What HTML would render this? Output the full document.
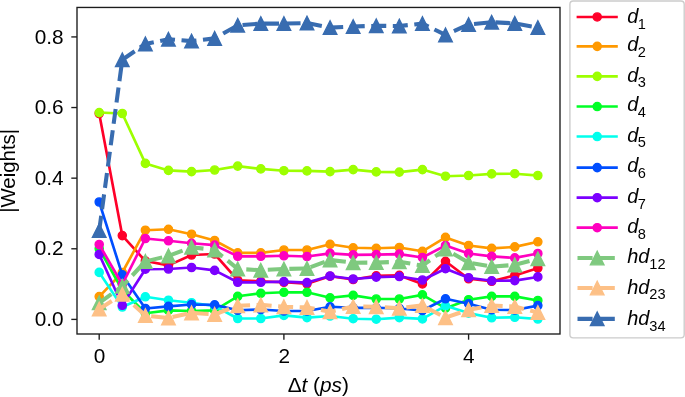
<!DOCTYPE html>
<html><head><meta charset="utf-8"><title>Weights</title>
<style>html,body{margin:0;padding:0;background:#fff;}body{width:685px;height:397px;overflow:hidden;position:relative;}</style>
</head><body>
<svg width="685" height="397" viewBox="0 0 685 397" style="display:block;position:absolute;left:0;top:0">
<rect x="0" y="0" width="685" height="397" fill="#ffffff"/>
<defs><clipPath id="ax"><rect x="77.0" y="7.45" width="483" height="326.55"/></clipPath></defs>
<g clip-path="url(#ax)">
<polyline points="99.2,113.5 122.29,235.6 145.37,261 168.46,265.4 191.55,255 214.63,254 237.72,280.2 260.81,281.4 283.9,282.3 306.98,283.8 330.07,276.2 353.16,279.5 376.24,275.8 399.33,275.4 422.42,283.9 445.5,261.3 468.59,278.8 491.68,281.3 514.77,275.4 537.85,268.1" fill="none" stroke="#ff0029" stroke-width="2.65" stroke-linejoin="round" stroke-linecap="square"/>
<circle cx="99.2" cy="113.5" r="4.1" fill="#ff0029" stroke="#ff0029" stroke-width="1.36"/>
<circle cx="122.29" cy="235.6" r="4.1" fill="#ff0029" stroke="#ff0029" stroke-width="1.36"/>
<circle cx="145.37" cy="261" r="4.1" fill="#ff0029" stroke="#ff0029" stroke-width="1.36"/>
<circle cx="168.46" cy="265.4" r="4.1" fill="#ff0029" stroke="#ff0029" stroke-width="1.36"/>
<circle cx="191.55" cy="255" r="4.1" fill="#ff0029" stroke="#ff0029" stroke-width="1.36"/>
<circle cx="214.63" cy="254" r="4.1" fill="#ff0029" stroke="#ff0029" stroke-width="1.36"/>
<circle cx="237.72" cy="280.2" r="4.1" fill="#ff0029" stroke="#ff0029" stroke-width="1.36"/>
<circle cx="260.81" cy="281.4" r="4.1" fill="#ff0029" stroke="#ff0029" stroke-width="1.36"/>
<circle cx="283.9" cy="282.3" r="4.1" fill="#ff0029" stroke="#ff0029" stroke-width="1.36"/>
<circle cx="306.98" cy="283.8" r="4.1" fill="#ff0029" stroke="#ff0029" stroke-width="1.36"/>
<circle cx="330.07" cy="276.2" r="4.1" fill="#ff0029" stroke="#ff0029" stroke-width="1.36"/>
<circle cx="353.16" cy="279.5" r="4.1" fill="#ff0029" stroke="#ff0029" stroke-width="1.36"/>
<circle cx="376.24" cy="275.8" r="4.1" fill="#ff0029" stroke="#ff0029" stroke-width="1.36"/>
<circle cx="399.33" cy="275.4" r="4.1" fill="#ff0029" stroke="#ff0029" stroke-width="1.36"/>
<circle cx="422.42" cy="283.9" r="4.1" fill="#ff0029" stroke="#ff0029" stroke-width="1.36"/>
<circle cx="445.5" cy="261.3" r="4.1" fill="#ff0029" stroke="#ff0029" stroke-width="1.36"/>
<circle cx="468.59" cy="278.8" r="4.1" fill="#ff0029" stroke="#ff0029" stroke-width="1.36"/>
<circle cx="491.68" cy="281.3" r="4.1" fill="#ff0029" stroke="#ff0029" stroke-width="1.36"/>
<circle cx="514.77" cy="275.4" r="4.1" fill="#ff0029" stroke="#ff0029" stroke-width="1.36"/>
<circle cx="537.85" cy="268.1" r="4.1" fill="#ff0029" stroke="#ff0029" stroke-width="1.36"/>
<polyline points="99.2,296.6 122.29,272.5 145.37,230.2 168.46,229.3 191.55,234.2 214.63,240.5 237.72,252.9 260.81,252.9 283.9,250 306.98,250 330.07,244.3 353.16,247.8 376.24,248.3 399.33,247.5 422.42,251.3 445.5,237.4 468.59,245.5 491.68,248.4 514.77,246.9 537.85,241.8" fill="none" stroke="#ff9900" stroke-width="2.65" stroke-linejoin="round" stroke-linecap="square"/>
<circle cx="99.2" cy="296.6" r="4.1" fill="#ff9900" stroke="#ff9900" stroke-width="1.36"/>
<circle cx="122.29" cy="272.5" r="4.1" fill="#ff9900" stroke="#ff9900" stroke-width="1.36"/>
<circle cx="145.37" cy="230.2" r="4.1" fill="#ff9900" stroke="#ff9900" stroke-width="1.36"/>
<circle cx="168.46" cy="229.3" r="4.1" fill="#ff9900" stroke="#ff9900" stroke-width="1.36"/>
<circle cx="191.55" cy="234.2" r="4.1" fill="#ff9900" stroke="#ff9900" stroke-width="1.36"/>
<circle cx="214.63" cy="240.5" r="4.1" fill="#ff9900" stroke="#ff9900" stroke-width="1.36"/>
<circle cx="237.72" cy="252.9" r="4.1" fill="#ff9900" stroke="#ff9900" stroke-width="1.36"/>
<circle cx="260.81" cy="252.9" r="4.1" fill="#ff9900" stroke="#ff9900" stroke-width="1.36"/>
<circle cx="283.9" cy="250" r="4.1" fill="#ff9900" stroke="#ff9900" stroke-width="1.36"/>
<circle cx="306.98" cy="250" r="4.1" fill="#ff9900" stroke="#ff9900" stroke-width="1.36"/>
<circle cx="330.07" cy="244.3" r="4.1" fill="#ff9900" stroke="#ff9900" stroke-width="1.36"/>
<circle cx="353.16" cy="247.8" r="4.1" fill="#ff9900" stroke="#ff9900" stroke-width="1.36"/>
<circle cx="376.24" cy="248.3" r="4.1" fill="#ff9900" stroke="#ff9900" stroke-width="1.36"/>
<circle cx="399.33" cy="247.5" r="4.1" fill="#ff9900" stroke="#ff9900" stroke-width="1.36"/>
<circle cx="422.42" cy="251.3" r="4.1" fill="#ff9900" stroke="#ff9900" stroke-width="1.36"/>
<circle cx="445.5" cy="237.4" r="4.1" fill="#ff9900" stroke="#ff9900" stroke-width="1.36"/>
<circle cx="468.59" cy="245.5" r="4.1" fill="#ff9900" stroke="#ff9900" stroke-width="1.36"/>
<circle cx="491.68" cy="248.4" r="4.1" fill="#ff9900" stroke="#ff9900" stroke-width="1.36"/>
<circle cx="514.77" cy="246.9" r="4.1" fill="#ff9900" stroke="#ff9900" stroke-width="1.36"/>
<circle cx="537.85" cy="241.8" r="4.1" fill="#ff9900" stroke="#ff9900" stroke-width="1.36"/>
<polyline points="99.2,112.6 122.29,113.5 145.37,163.4 168.46,170.4 191.55,171.6 214.63,170 237.72,166.1 260.81,168.9 283.9,170.7 306.98,170.9 330.07,171.6 353.16,169.6 376.24,171.9 399.33,172.1 422.42,169.6 445.5,176.2 468.59,175.5 491.68,173.9 514.77,173.7 537.85,175.5" fill="none" stroke="#9dff00" stroke-width="2.65" stroke-linejoin="round" stroke-linecap="square"/>
<circle cx="99.2" cy="112.6" r="4.1" fill="#9dff00" stroke="#9dff00" stroke-width="1.36"/>
<circle cx="122.29" cy="113.5" r="4.1" fill="#9dff00" stroke="#9dff00" stroke-width="1.36"/>
<circle cx="145.37" cy="163.4" r="4.1" fill="#9dff00" stroke="#9dff00" stroke-width="1.36"/>
<circle cx="168.46" cy="170.4" r="4.1" fill="#9dff00" stroke="#9dff00" stroke-width="1.36"/>
<circle cx="191.55" cy="171.6" r="4.1" fill="#9dff00" stroke="#9dff00" stroke-width="1.36"/>
<circle cx="214.63" cy="170" r="4.1" fill="#9dff00" stroke="#9dff00" stroke-width="1.36"/>
<circle cx="237.72" cy="166.1" r="4.1" fill="#9dff00" stroke="#9dff00" stroke-width="1.36"/>
<circle cx="260.81" cy="168.9" r="4.1" fill="#9dff00" stroke="#9dff00" stroke-width="1.36"/>
<circle cx="283.9" cy="170.7" r="4.1" fill="#9dff00" stroke="#9dff00" stroke-width="1.36"/>
<circle cx="306.98" cy="170.9" r="4.1" fill="#9dff00" stroke="#9dff00" stroke-width="1.36"/>
<circle cx="330.07" cy="171.6" r="4.1" fill="#9dff00" stroke="#9dff00" stroke-width="1.36"/>
<circle cx="353.16" cy="169.6" r="4.1" fill="#9dff00" stroke="#9dff00" stroke-width="1.36"/>
<circle cx="376.24" cy="171.9" r="4.1" fill="#9dff00" stroke="#9dff00" stroke-width="1.36"/>
<circle cx="399.33" cy="172.1" r="4.1" fill="#9dff00" stroke="#9dff00" stroke-width="1.36"/>
<circle cx="422.42" cy="169.6" r="4.1" fill="#9dff00" stroke="#9dff00" stroke-width="1.36"/>
<circle cx="445.5" cy="176.2" r="4.1" fill="#9dff00" stroke="#9dff00" stroke-width="1.36"/>
<circle cx="468.59" cy="175.5" r="4.1" fill="#9dff00" stroke="#9dff00" stroke-width="1.36"/>
<circle cx="491.68" cy="173.9" r="4.1" fill="#9dff00" stroke="#9dff00" stroke-width="1.36"/>
<circle cx="514.77" cy="173.7" r="4.1" fill="#9dff00" stroke="#9dff00" stroke-width="1.36"/>
<circle cx="537.85" cy="175.5" r="4.1" fill="#9dff00" stroke="#9dff00" stroke-width="1.36"/>
<polyline points="99.2,248.7 122.29,290 145.37,313.3 168.46,310.4 191.55,311 214.63,310.4 237.72,296.3 260.81,293.3 283.9,292.3 306.98,292.3 330.07,297.8 353.16,295.4 376.24,299 399.33,299 422.42,294.9 445.5,308.2 468.59,299.7 491.68,296.4 514.77,296.4 537.85,300.5" fill="none" stroke="#00ff26" stroke-width="2.65" stroke-linejoin="round" stroke-linecap="square"/>
<circle cx="99.2" cy="248.7" r="4.1" fill="#00ff26" stroke="#00ff26" stroke-width="1.36"/>
<circle cx="122.29" cy="290" r="4.1" fill="#00ff26" stroke="#00ff26" stroke-width="1.36"/>
<circle cx="145.37" cy="313.3" r="4.1" fill="#00ff26" stroke="#00ff26" stroke-width="1.36"/>
<circle cx="168.46" cy="310.4" r="4.1" fill="#00ff26" stroke="#00ff26" stroke-width="1.36"/>
<circle cx="191.55" cy="311" r="4.1" fill="#00ff26" stroke="#00ff26" stroke-width="1.36"/>
<circle cx="214.63" cy="310.4" r="4.1" fill="#00ff26" stroke="#00ff26" stroke-width="1.36"/>
<circle cx="237.72" cy="296.3" r="4.1" fill="#00ff26" stroke="#00ff26" stroke-width="1.36"/>
<circle cx="260.81" cy="293.3" r="4.1" fill="#00ff26" stroke="#00ff26" stroke-width="1.36"/>
<circle cx="283.9" cy="292.3" r="4.1" fill="#00ff26" stroke="#00ff26" stroke-width="1.36"/>
<circle cx="306.98" cy="292.3" r="4.1" fill="#00ff26" stroke="#00ff26" stroke-width="1.36"/>
<circle cx="330.07" cy="297.8" r="4.1" fill="#00ff26" stroke="#00ff26" stroke-width="1.36"/>
<circle cx="353.16" cy="295.4" r="4.1" fill="#00ff26" stroke="#00ff26" stroke-width="1.36"/>
<circle cx="376.24" cy="299" r="4.1" fill="#00ff26" stroke="#00ff26" stroke-width="1.36"/>
<circle cx="399.33" cy="299" r="4.1" fill="#00ff26" stroke="#00ff26" stroke-width="1.36"/>
<circle cx="422.42" cy="294.9" r="4.1" fill="#00ff26" stroke="#00ff26" stroke-width="1.36"/>
<circle cx="445.5" cy="308.2" r="4.1" fill="#00ff26" stroke="#00ff26" stroke-width="1.36"/>
<circle cx="468.59" cy="299.7" r="4.1" fill="#00ff26" stroke="#00ff26" stroke-width="1.36"/>
<circle cx="491.68" cy="296.4" r="4.1" fill="#00ff26" stroke="#00ff26" stroke-width="1.36"/>
<circle cx="514.77" cy="296.4" r="4.1" fill="#00ff26" stroke="#00ff26" stroke-width="1.36"/>
<circle cx="537.85" cy="300.5" r="4.1" fill="#00ff26" stroke="#00ff26" stroke-width="1.36"/>
<polyline points="99.2,272.4 122.29,307 145.37,296.8 168.46,300.2 191.55,302.7 214.63,306 237.72,318.5 260.81,318.5 283.9,315.4 306.98,317.6 330.07,316 353.16,318.7 376.24,319.2 399.33,317.6 422.42,318.9 445.5,305.8 468.59,313.1 491.68,317.8 514.77,317.3 537.85,319" fill="none" stroke="#00ffed" stroke-width="2.65" stroke-linejoin="round" stroke-linecap="square"/>
<circle cx="99.2" cy="272.4" r="4.1" fill="#00ffed" stroke="#00ffed" stroke-width="1.36"/>
<circle cx="122.29" cy="307" r="4.1" fill="#00ffed" stroke="#00ffed" stroke-width="1.36"/>
<circle cx="145.37" cy="296.8" r="4.1" fill="#00ffed" stroke="#00ffed" stroke-width="1.36"/>
<circle cx="168.46" cy="300.2" r="4.1" fill="#00ffed" stroke="#00ffed" stroke-width="1.36"/>
<circle cx="191.55" cy="302.7" r="4.1" fill="#00ffed" stroke="#00ffed" stroke-width="1.36"/>
<circle cx="214.63" cy="306" r="4.1" fill="#00ffed" stroke="#00ffed" stroke-width="1.36"/>
<circle cx="237.72" cy="318.5" r="4.1" fill="#00ffed" stroke="#00ffed" stroke-width="1.36"/>
<circle cx="260.81" cy="318.5" r="4.1" fill="#00ffed" stroke="#00ffed" stroke-width="1.36"/>
<circle cx="283.9" cy="315.4" r="4.1" fill="#00ffed" stroke="#00ffed" stroke-width="1.36"/>
<circle cx="306.98" cy="317.6" r="4.1" fill="#00ffed" stroke="#00ffed" stroke-width="1.36"/>
<circle cx="330.07" cy="316" r="4.1" fill="#00ffed" stroke="#00ffed" stroke-width="1.36"/>
<circle cx="353.16" cy="318.7" r="4.1" fill="#00ffed" stroke="#00ffed" stroke-width="1.36"/>
<circle cx="376.24" cy="319.2" r="4.1" fill="#00ffed" stroke="#00ffed" stroke-width="1.36"/>
<circle cx="399.33" cy="317.6" r="4.1" fill="#00ffed" stroke="#00ffed" stroke-width="1.36"/>
<circle cx="422.42" cy="318.9" r="4.1" fill="#00ffed" stroke="#00ffed" stroke-width="1.36"/>
<circle cx="445.5" cy="305.8" r="4.1" fill="#00ffed" stroke="#00ffed" stroke-width="1.36"/>
<circle cx="468.59" cy="313.1" r="4.1" fill="#00ffed" stroke="#00ffed" stroke-width="1.36"/>
<circle cx="491.68" cy="317.8" r="4.1" fill="#00ffed" stroke="#00ffed" stroke-width="1.36"/>
<circle cx="514.77" cy="317.3" r="4.1" fill="#00ffed" stroke="#00ffed" stroke-width="1.36"/>
<circle cx="537.85" cy="319" r="4.1" fill="#00ffed" stroke="#00ffed" stroke-width="1.36"/>
<polyline points="99.2,202 122.29,274.9 145.37,308.5 168.46,306.4 191.55,304.5 214.63,304.9 237.72,310.3 260.81,309.5 283.9,311 306.98,311 330.07,306.8 353.16,307.8 376.24,307.8 399.33,308.5 422.42,310.5 445.5,298.8 468.59,303.7 491.68,309.8 514.77,310 537.85,305.6" fill="none" stroke="#004eff" stroke-width="2.65" stroke-linejoin="round" stroke-linecap="square"/>
<circle cx="99.2" cy="202" r="4.1" fill="#004eff" stroke="#004eff" stroke-width="1.36"/>
<circle cx="122.29" cy="274.9" r="4.1" fill="#004eff" stroke="#004eff" stroke-width="1.36"/>
<circle cx="145.37" cy="308.5" r="4.1" fill="#004eff" stroke="#004eff" stroke-width="1.36"/>
<circle cx="168.46" cy="306.4" r="4.1" fill="#004eff" stroke="#004eff" stroke-width="1.36"/>
<circle cx="191.55" cy="304.5" r="4.1" fill="#004eff" stroke="#004eff" stroke-width="1.36"/>
<circle cx="214.63" cy="304.9" r="4.1" fill="#004eff" stroke="#004eff" stroke-width="1.36"/>
<circle cx="237.72" cy="310.3" r="4.1" fill="#004eff" stroke="#004eff" stroke-width="1.36"/>
<circle cx="260.81" cy="309.5" r="4.1" fill="#004eff" stroke="#004eff" stroke-width="1.36"/>
<circle cx="283.9" cy="311" r="4.1" fill="#004eff" stroke="#004eff" stroke-width="1.36"/>
<circle cx="306.98" cy="311" r="4.1" fill="#004eff" stroke="#004eff" stroke-width="1.36"/>
<circle cx="330.07" cy="306.8" r="4.1" fill="#004eff" stroke="#004eff" stroke-width="1.36"/>
<circle cx="353.16" cy="307.8" r="4.1" fill="#004eff" stroke="#004eff" stroke-width="1.36"/>
<circle cx="376.24" cy="307.8" r="4.1" fill="#004eff" stroke="#004eff" stroke-width="1.36"/>
<circle cx="399.33" cy="308.5" r="4.1" fill="#004eff" stroke="#004eff" stroke-width="1.36"/>
<circle cx="422.42" cy="310.5" r="4.1" fill="#004eff" stroke="#004eff" stroke-width="1.36"/>
<circle cx="445.5" cy="298.8" r="4.1" fill="#004eff" stroke="#004eff" stroke-width="1.36"/>
<circle cx="468.59" cy="303.7" r="4.1" fill="#004eff" stroke="#004eff" stroke-width="1.36"/>
<circle cx="491.68" cy="309.8" r="4.1" fill="#004eff" stroke="#004eff" stroke-width="1.36"/>
<circle cx="514.77" cy="310" r="4.1" fill="#004eff" stroke="#004eff" stroke-width="1.36"/>
<circle cx="537.85" cy="305.6" r="4.1" fill="#004eff" stroke="#004eff" stroke-width="1.36"/>
<polyline points="99.2,254.4 122.29,305.3 145.37,269.2 168.46,269 191.55,267.5 214.63,270.4 237.72,282.3 260.81,282.3 283.9,281.6 306.98,282.6 330.07,276 353.16,279 376.24,277.1 399.33,276.5 422.42,280 445.5,268.7 468.59,277.7 491.68,280.8 514.77,280.6 537.85,276.9" fill="none" stroke="#7b00ff" stroke-width="2.65" stroke-linejoin="round" stroke-linecap="square"/>
<circle cx="99.2" cy="254.4" r="4.1" fill="#7b00ff" stroke="#7b00ff" stroke-width="1.36"/>
<circle cx="122.29" cy="305.3" r="4.1" fill="#7b00ff" stroke="#7b00ff" stroke-width="1.36"/>
<circle cx="145.37" cy="269.2" r="4.1" fill="#7b00ff" stroke="#7b00ff" stroke-width="1.36"/>
<circle cx="168.46" cy="269" r="4.1" fill="#7b00ff" stroke="#7b00ff" stroke-width="1.36"/>
<circle cx="191.55" cy="267.5" r="4.1" fill="#7b00ff" stroke="#7b00ff" stroke-width="1.36"/>
<circle cx="214.63" cy="270.4" r="4.1" fill="#7b00ff" stroke="#7b00ff" stroke-width="1.36"/>
<circle cx="237.72" cy="282.3" r="4.1" fill="#7b00ff" stroke="#7b00ff" stroke-width="1.36"/>
<circle cx="260.81" cy="282.3" r="4.1" fill="#7b00ff" stroke="#7b00ff" stroke-width="1.36"/>
<circle cx="283.9" cy="281.6" r="4.1" fill="#7b00ff" stroke="#7b00ff" stroke-width="1.36"/>
<circle cx="306.98" cy="282.6" r="4.1" fill="#7b00ff" stroke="#7b00ff" stroke-width="1.36"/>
<circle cx="330.07" cy="276" r="4.1" fill="#7b00ff" stroke="#7b00ff" stroke-width="1.36"/>
<circle cx="353.16" cy="279" r="4.1" fill="#7b00ff" stroke="#7b00ff" stroke-width="1.36"/>
<circle cx="376.24" cy="277.1" r="4.1" fill="#7b00ff" stroke="#7b00ff" stroke-width="1.36"/>
<circle cx="399.33" cy="276.5" r="4.1" fill="#7b00ff" stroke="#7b00ff" stroke-width="1.36"/>
<circle cx="422.42" cy="280" r="4.1" fill="#7b00ff" stroke="#7b00ff" stroke-width="1.36"/>
<circle cx="445.5" cy="268.7" r="4.1" fill="#7b00ff" stroke="#7b00ff" stroke-width="1.36"/>
<circle cx="468.59" cy="277.7" r="4.1" fill="#7b00ff" stroke="#7b00ff" stroke-width="1.36"/>
<circle cx="491.68" cy="280.8" r="4.1" fill="#7b00ff" stroke="#7b00ff" stroke-width="1.36"/>
<circle cx="514.77" cy="280.6" r="4.1" fill="#7b00ff" stroke="#7b00ff" stroke-width="1.36"/>
<circle cx="537.85" cy="276.9" r="4.1" fill="#7b00ff" stroke="#7b00ff" stroke-width="1.36"/>
<polyline points="99.2,244.5 122.29,284.5 145.37,238.5 168.46,240.8 191.55,243.3 214.63,245.1 237.72,256.3 260.81,256.3 283.9,255.8 306.98,256.5 330.07,253.4 353.16,254.9 376.24,254.6 399.33,254.1 422.42,257.5 445.5,245.5 468.59,253.5 491.68,256.4 514.77,257.9 537.85,253.5" fill="none" stroke="#ff00bf" stroke-width="2.65" stroke-linejoin="round" stroke-linecap="square"/>
<circle cx="99.2" cy="244.5" r="4.1" fill="#ff00bf" stroke="#ff00bf" stroke-width="1.36"/>
<circle cx="122.29" cy="284.5" r="4.1" fill="#ff00bf" stroke="#ff00bf" stroke-width="1.36"/>
<circle cx="145.37" cy="238.5" r="4.1" fill="#ff00bf" stroke="#ff00bf" stroke-width="1.36"/>
<circle cx="168.46" cy="240.8" r="4.1" fill="#ff00bf" stroke="#ff00bf" stroke-width="1.36"/>
<circle cx="191.55" cy="243.3" r="4.1" fill="#ff00bf" stroke="#ff00bf" stroke-width="1.36"/>
<circle cx="214.63" cy="245.1" r="4.1" fill="#ff00bf" stroke="#ff00bf" stroke-width="1.36"/>
<circle cx="237.72" cy="256.3" r="4.1" fill="#ff00bf" stroke="#ff00bf" stroke-width="1.36"/>
<circle cx="260.81" cy="256.3" r="4.1" fill="#ff00bf" stroke="#ff00bf" stroke-width="1.36"/>
<circle cx="283.9" cy="255.8" r="4.1" fill="#ff00bf" stroke="#ff00bf" stroke-width="1.36"/>
<circle cx="306.98" cy="256.5" r="4.1" fill="#ff00bf" stroke="#ff00bf" stroke-width="1.36"/>
<circle cx="330.07" cy="253.4" r="4.1" fill="#ff00bf" stroke="#ff00bf" stroke-width="1.36"/>
<circle cx="353.16" cy="254.9" r="4.1" fill="#ff00bf" stroke="#ff00bf" stroke-width="1.36"/>
<circle cx="376.24" cy="254.6" r="4.1" fill="#ff00bf" stroke="#ff00bf" stroke-width="1.36"/>
<circle cx="399.33" cy="254.1" r="4.1" fill="#ff00bf" stroke="#ff00bf" stroke-width="1.36"/>
<circle cx="422.42" cy="257.5" r="4.1" fill="#ff00bf" stroke="#ff00bf" stroke-width="1.36"/>
<circle cx="445.5" cy="245.5" r="4.1" fill="#ff00bf" stroke="#ff00bf" stroke-width="1.36"/>
<circle cx="468.59" cy="253.5" r="4.1" fill="#ff00bf" stroke="#ff00bf" stroke-width="1.36"/>
<circle cx="491.68" cy="256.4" r="4.1" fill="#ff00bf" stroke="#ff00bf" stroke-width="1.36"/>
<circle cx="514.77" cy="257.9" r="4.1" fill="#ff00bf" stroke="#ff00bf" stroke-width="1.36"/>
<circle cx="537.85" cy="253.5" r="4.1" fill="#ff00bf" stroke="#ff00bf" stroke-width="1.36"/>
<polyline points="99.2,302.8 122.29,286.3 145.37,261.4 168.46,255.9 191.55,247.2 214.63,250 237.72,268.9 260.81,270.2 283.9,269 306.98,268.4 330.07,260 353.16,262.7 376.24,262.6 399.33,261.8 422.42,265.6 445.5,249.1 468.59,262.7 491.68,266.6 514.77,264.9 537.85,258.8" fill="none" stroke="#7fc97f" stroke-width="4.08" stroke-dasharray="15.0 6.55" stroke-linejoin="round" stroke-linecap="butt"/>
<polygon points="99.2,296 92.4,309.6 106,309.6" fill="#7fc97f" stroke="#7fc97f" stroke-width="1.36" stroke-linejoin="miter"/>
<polygon points="122.29,279.5 115.49,293.1 129.09,293.1" fill="#7fc97f" stroke="#7fc97f" stroke-width="1.36" stroke-linejoin="miter"/>
<polygon points="145.37,254.6 138.57,268.2 152.17,268.2" fill="#7fc97f" stroke="#7fc97f" stroke-width="1.36" stroke-linejoin="miter"/>
<polygon points="168.46,249.1 161.66,262.7 175.26,262.7" fill="#7fc97f" stroke="#7fc97f" stroke-width="1.36" stroke-linejoin="miter"/>
<polygon points="191.55,240.4 184.75,254 198.35,254" fill="#7fc97f" stroke="#7fc97f" stroke-width="1.36" stroke-linejoin="miter"/>
<polygon points="214.63,243.2 207.83,256.8 221.44,256.8" fill="#7fc97f" stroke="#7fc97f" stroke-width="1.36" stroke-linejoin="miter"/>
<polygon points="237.72,262.1 230.92,275.7 244.52,275.7" fill="#7fc97f" stroke="#7fc97f" stroke-width="1.36" stroke-linejoin="miter"/>
<polygon points="260.81,263.4 254.01,277 267.61,277" fill="#7fc97f" stroke="#7fc97f" stroke-width="1.36" stroke-linejoin="miter"/>
<polygon points="283.9,262.2 277.1,275.8 290.7,275.8" fill="#7fc97f" stroke="#7fc97f" stroke-width="1.36" stroke-linejoin="miter"/>
<polygon points="306.98,261.6 300.18,275.2 313.78,275.2" fill="#7fc97f" stroke="#7fc97f" stroke-width="1.36" stroke-linejoin="miter"/>
<polygon points="330.07,253.2 323.27,266.8 336.87,266.8" fill="#7fc97f" stroke="#7fc97f" stroke-width="1.36" stroke-linejoin="miter"/>
<polygon points="353.16,255.9 346.36,269.5 359.96,269.5" fill="#7fc97f" stroke="#7fc97f" stroke-width="1.36" stroke-linejoin="miter"/>
<polygon points="376.24,255.8 369.44,269.4 383.04,269.4" fill="#7fc97f" stroke="#7fc97f" stroke-width="1.36" stroke-linejoin="miter"/>
<polygon points="399.33,255 392.53,268.6 406.13,268.6" fill="#7fc97f" stroke="#7fc97f" stroke-width="1.36" stroke-linejoin="miter"/>
<polygon points="422.42,258.8 415.62,272.4 429.22,272.4" fill="#7fc97f" stroke="#7fc97f" stroke-width="1.36" stroke-linejoin="miter"/>
<polygon points="445.5,242.3 438.7,255.9 452.31,255.9" fill="#7fc97f" stroke="#7fc97f" stroke-width="1.36" stroke-linejoin="miter"/>
<polygon points="468.59,255.9 461.79,269.5 475.39,269.5" fill="#7fc97f" stroke="#7fc97f" stroke-width="1.36" stroke-linejoin="miter"/>
<polygon points="491.68,259.8 484.88,273.4 498.48,273.4" fill="#7fc97f" stroke="#7fc97f" stroke-width="1.36" stroke-linejoin="miter"/>
<polygon points="514.77,258.1 507.97,271.7 521.57,271.7" fill="#7fc97f" stroke="#7fc97f" stroke-width="1.36" stroke-linejoin="miter"/>
<polygon points="537.85,252 531.05,265.6 544.65,265.6" fill="#7fc97f" stroke="#7fc97f" stroke-width="1.36" stroke-linejoin="miter"/>
<polyline points="99.2,309.1 122.29,294.3 145.37,315.6 168.46,317.9 191.55,312.9 214.63,314.4 237.72,305.7 260.81,304.9 283.9,306.7 306.98,307.4 330.07,311.8 353.16,306.6 376.24,306.7 399.33,308.2 422.42,305.5 445.5,317.7 468.59,309.7 491.68,305.5 514.77,306.5 537.85,312.6" fill="none" stroke="#fdc086" stroke-width="4.08" stroke-dasharray="15.0 6.55" stroke-linejoin="round" stroke-linecap="butt"/>
<polygon points="99.2,302.3 92.4,315.9 106,315.9" fill="#fdc086" stroke="#fdc086" stroke-width="1.36" stroke-linejoin="miter"/>
<polygon points="122.29,287.5 115.49,301.1 129.09,301.1" fill="#fdc086" stroke="#fdc086" stroke-width="1.36" stroke-linejoin="miter"/>
<polygon points="145.37,308.8 138.57,322.4 152.17,322.4" fill="#fdc086" stroke="#fdc086" stroke-width="1.36" stroke-linejoin="miter"/>
<polygon points="168.46,311.1 161.66,324.7 175.26,324.7" fill="#fdc086" stroke="#fdc086" stroke-width="1.36" stroke-linejoin="miter"/>
<polygon points="191.55,306.1 184.75,319.7 198.35,319.7" fill="#fdc086" stroke="#fdc086" stroke-width="1.36" stroke-linejoin="miter"/>
<polygon points="214.63,307.6 207.83,321.2 221.44,321.2" fill="#fdc086" stroke="#fdc086" stroke-width="1.36" stroke-linejoin="miter"/>
<polygon points="237.72,298.9 230.92,312.5 244.52,312.5" fill="#fdc086" stroke="#fdc086" stroke-width="1.36" stroke-linejoin="miter"/>
<polygon points="260.81,298.1 254.01,311.7 267.61,311.7" fill="#fdc086" stroke="#fdc086" stroke-width="1.36" stroke-linejoin="miter"/>
<polygon points="283.9,299.9 277.1,313.5 290.7,313.5" fill="#fdc086" stroke="#fdc086" stroke-width="1.36" stroke-linejoin="miter"/>
<polygon points="306.98,300.6 300.18,314.2 313.78,314.2" fill="#fdc086" stroke="#fdc086" stroke-width="1.36" stroke-linejoin="miter"/>
<polygon points="330.07,305 323.27,318.6 336.87,318.6" fill="#fdc086" stroke="#fdc086" stroke-width="1.36" stroke-linejoin="miter"/>
<polygon points="353.16,299.8 346.36,313.4 359.96,313.4" fill="#fdc086" stroke="#fdc086" stroke-width="1.36" stroke-linejoin="miter"/>
<polygon points="376.24,299.9 369.44,313.5 383.04,313.5" fill="#fdc086" stroke="#fdc086" stroke-width="1.36" stroke-linejoin="miter"/>
<polygon points="399.33,301.4 392.53,315 406.13,315" fill="#fdc086" stroke="#fdc086" stroke-width="1.36" stroke-linejoin="miter"/>
<polygon points="422.42,298.7 415.62,312.3 429.22,312.3" fill="#fdc086" stroke="#fdc086" stroke-width="1.36" stroke-linejoin="miter"/>
<polygon points="445.5,310.9 438.7,324.5 452.31,324.5" fill="#fdc086" stroke="#fdc086" stroke-width="1.36" stroke-linejoin="miter"/>
<polygon points="468.59,302.9 461.79,316.5 475.39,316.5" fill="#fdc086" stroke="#fdc086" stroke-width="1.36" stroke-linejoin="miter"/>
<polygon points="491.68,298.7 484.88,312.3 498.48,312.3" fill="#fdc086" stroke="#fdc086" stroke-width="1.36" stroke-linejoin="miter"/>
<polygon points="514.77,299.7 507.97,313.3 521.57,313.3" fill="#fdc086" stroke="#fdc086" stroke-width="1.36" stroke-linejoin="miter"/>
<polygon points="537.85,305.8 531.05,319.4 544.65,319.4" fill="#fdc086" stroke="#fdc086" stroke-width="1.36" stroke-linejoin="miter"/>
<polyline points="99.2,230.6 122.29,59.8 145.37,43.9 168.46,39.2 191.55,41.1 214.63,38.4 237.72,25.3 260.81,23.6 283.9,23.6 306.98,23 330.07,27.6 353.16,26.5 376.24,25.8 399.33,26 422.42,23.6 445.5,34.9 468.59,24.5 491.68,22.2 514.77,23.4 537.85,27.5" fill="none" stroke="#386cb0" stroke-width="4.08" stroke-dasharray="15.0 6.55" stroke-linejoin="round" stroke-linecap="butt"/>
<polygon points="99.2,223.8 92.4,237.4 106,237.4" fill="#386cb0" stroke="#386cb0" stroke-width="1.36" stroke-linejoin="miter"/>
<polygon points="122.29,53 115.49,66.6 129.09,66.6" fill="#386cb0" stroke="#386cb0" stroke-width="1.36" stroke-linejoin="miter"/>
<polygon points="145.37,37.1 138.57,50.7 152.17,50.7" fill="#386cb0" stroke="#386cb0" stroke-width="1.36" stroke-linejoin="miter"/>
<polygon points="168.46,32.4 161.66,46 175.26,46" fill="#386cb0" stroke="#386cb0" stroke-width="1.36" stroke-linejoin="miter"/>
<polygon points="191.55,34.3 184.75,47.9 198.35,47.9" fill="#386cb0" stroke="#386cb0" stroke-width="1.36" stroke-linejoin="miter"/>
<polygon points="214.63,31.6 207.83,45.2 221.44,45.2" fill="#386cb0" stroke="#386cb0" stroke-width="1.36" stroke-linejoin="miter"/>
<polygon points="237.72,18.5 230.92,32.1 244.52,32.1" fill="#386cb0" stroke="#386cb0" stroke-width="1.36" stroke-linejoin="miter"/>
<polygon points="260.81,16.8 254.01,30.4 267.61,30.4" fill="#386cb0" stroke="#386cb0" stroke-width="1.36" stroke-linejoin="miter"/>
<polygon points="283.9,16.8 277.1,30.4 290.7,30.4" fill="#386cb0" stroke="#386cb0" stroke-width="1.36" stroke-linejoin="miter"/>
<polygon points="306.98,16.2 300.18,29.8 313.78,29.8" fill="#386cb0" stroke="#386cb0" stroke-width="1.36" stroke-linejoin="miter"/>
<polygon points="330.07,20.8 323.27,34.4 336.87,34.4" fill="#386cb0" stroke="#386cb0" stroke-width="1.36" stroke-linejoin="miter"/>
<polygon points="353.16,19.7 346.36,33.3 359.96,33.3" fill="#386cb0" stroke="#386cb0" stroke-width="1.36" stroke-linejoin="miter"/>
<polygon points="376.24,19 369.44,32.6 383.04,32.6" fill="#386cb0" stroke="#386cb0" stroke-width="1.36" stroke-linejoin="miter"/>
<polygon points="399.33,19.2 392.53,32.8 406.13,32.8" fill="#386cb0" stroke="#386cb0" stroke-width="1.36" stroke-linejoin="miter"/>
<polygon points="422.42,16.8 415.62,30.4 429.22,30.4" fill="#386cb0" stroke="#386cb0" stroke-width="1.36" stroke-linejoin="miter"/>
<polygon points="445.5,28.1 438.7,41.7 452.31,41.7" fill="#386cb0" stroke="#386cb0" stroke-width="1.36" stroke-linejoin="miter"/>
<polygon points="468.59,17.7 461.79,31.3 475.39,31.3" fill="#386cb0" stroke="#386cb0" stroke-width="1.36" stroke-linejoin="miter"/>
<polygon points="491.68,15.4 484.88,29 498.48,29" fill="#386cb0" stroke="#386cb0" stroke-width="1.36" stroke-linejoin="miter"/>
<polygon points="514.77,16.6 507.97,30.2 521.57,30.2" fill="#386cb0" stroke="#386cb0" stroke-width="1.36" stroke-linejoin="miter"/>
<polygon points="537.85,20.7 531.05,34.3 544.65,34.3" fill="#386cb0" stroke="#386cb0" stroke-width="1.36" stroke-linejoin="miter"/>
</g>
<rect x="77.0" y="7.45" width="483" height="326.55" fill="none" stroke="#1c1c1c" stroke-width="1.36"/>
<line x1="71.3" y1="319.4" x2="77" y2="319.4" stroke="#1c1c1c" stroke-width="1.36"/>
<text x="63.6" y="326" text-anchor="end" font-family='"Liberation Sans", sans-serif' font-size="20.8" fill="#000">0.0</text>
<line x1="71.3" y1="248.78" x2="77" y2="248.78" stroke="#1c1c1c" stroke-width="1.36"/>
<text x="63.6" y="255.38" text-anchor="end" font-family='"Liberation Sans", sans-serif' font-size="20.8" fill="#000">0.2</text>
<line x1="71.3" y1="178.16" x2="77" y2="178.16" stroke="#1c1c1c" stroke-width="1.36"/>
<text x="63.6" y="184.76" text-anchor="end" font-family='"Liberation Sans", sans-serif' font-size="20.8" fill="#000">0.4</text>
<line x1="71.3" y1="107.54" x2="77" y2="107.54" stroke="#1c1c1c" stroke-width="1.36"/>
<text x="63.6" y="114.14" text-anchor="end" font-family='"Liberation Sans", sans-serif' font-size="20.8" fill="#000">0.6</text>
<line x1="71.3" y1="36.92" x2="77" y2="36.92" stroke="#1c1c1c" stroke-width="1.36"/>
<text x="63.6" y="43.52" text-anchor="end" font-family='"Liberation Sans", sans-serif' font-size="20.8" fill="#000">0.8</text>
<line x1="99.2" y1="334" x2="99.2" y2="339.7" stroke="#1c1c1c" stroke-width="1.36"/>
<text x="99.5" y="363" text-anchor="middle" font-family='"Liberation Sans", sans-serif' font-size="20.8" fill="#000">0</text>
<line x1="283.9" y1="334" x2="283.9" y2="339.7" stroke="#1c1c1c" stroke-width="1.36"/>
<text x="284.2" y="363" text-anchor="middle" font-family='"Liberation Sans", sans-serif' font-size="20.8" fill="#000">2</text>
<line x1="468.59" y1="334" x2="468.59" y2="339.7" stroke="#1c1c1c" stroke-width="1.36"/>
<text x="468.89" y="363" text-anchor="middle" font-family='"Liberation Sans", sans-serif' font-size="20.8" fill="#000">4</text>
<text x="318.3" y="392" text-anchor="middle" font-family='"Liberation Sans", sans-serif' font-size="20.8" fill="#000">Δ<tspan font-style="italic">t</tspan> (<tspan font-style="italic">ps</tspan>)</text>
<text transform="translate(15.4,170.9) rotate(-90)" text-anchor="middle" font-family='"Liberation Sans", sans-serif' font-size="20.4" fill="#000">|Weights|</text>
<rect x="569.9" y="1.0" width="114.3" height="336.9" rx="3.3" ry="3.3" fill="#ffffff" fill-opacity="0.8" stroke="#cccccc" stroke-width="1.39"/>
<line x1="576.6" y1="16.98" x2="617.8" y2="16.98" stroke="#ff0029" stroke-width="2.65"/>
<circle cx="597.2" cy="16.98" r="4.1" fill="#ff0029" stroke="#ff0029" stroke-width="1.36"/>
<text x="627.2" y="23.15" font-family='"Liberation Sans", sans-serif' font-size="20" fill="#000"><tspan font-style="italic">d</tspan><tspan font-size="14.6" dx="-0.6" dy="5.6">1</tspan></text>
<line x1="576.6" y1="46.36" x2="617.8" y2="46.36" stroke="#ff9900" stroke-width="2.65"/>
<circle cx="597.2" cy="46.36" r="4.1" fill="#ff9900" stroke="#ff9900" stroke-width="1.36"/>
<text x="627.2" y="51.2" font-family='"Liberation Sans", sans-serif' font-size="20" fill="#000"><tspan font-style="italic">d</tspan><tspan font-size="14.6" dx="-0.6" dy="5.6">2</tspan></text>
<line x1="576.6" y1="76.36" x2="617.8" y2="76.36" stroke="#9dff00" stroke-width="2.65"/>
<circle cx="597.2" cy="76.36" r="4.1" fill="#9dff00" stroke="#9dff00" stroke-width="1.36"/>
<text x="627.2" y="81.56" font-family='"Liberation Sans", sans-serif' font-size="20" fill="#000"><tspan font-style="italic">d</tspan><tspan font-size="14.6" dx="-0.6" dy="5.6">3</tspan></text>
<line x1="576.6" y1="106.54" x2="617.8" y2="106.54" stroke="#00ff26" stroke-width="2.65"/>
<circle cx="597.2" cy="106.54" r="4.1" fill="#00ff26" stroke="#00ff26" stroke-width="1.36"/>
<text x="627.2" y="111.38" font-family='"Liberation Sans", sans-serif' font-size="20" fill="#000"><tspan font-style="italic">d</tspan><tspan font-size="14.6" dx="-0.6" dy="5.6">4</tspan></text>
<line x1="576.6" y1="136.54" x2="617.8" y2="136.54" stroke="#00ffed" stroke-width="2.65"/>
<circle cx="597.2" cy="136.54" r="4.1" fill="#00ffed" stroke="#00ffed" stroke-width="1.36"/>
<text x="627.2" y="141.8" font-family='"Liberation Sans", sans-serif' font-size="20" fill="#000"><tspan font-style="italic">d</tspan><tspan font-size="14.6" dx="-0.6" dy="5.6">5</tspan></text>
<line x1="576.6" y1="167.6" x2="617.8" y2="167.6" stroke="#004eff" stroke-width="2.65"/>
<circle cx="597.2" cy="167.6" r="4.1" fill="#004eff" stroke="#004eff" stroke-width="1.36"/>
<text x="627.2" y="172.26" font-family='"Liberation Sans", sans-serif' font-size="20" fill="#000"><tspan font-style="italic">d</tspan><tspan font-size="14.6" dx="-0.6" dy="5.6">6</tspan></text>
<line x1="576.6" y1="197.68" x2="617.8" y2="197.68" stroke="#7b00ff" stroke-width="2.65"/>
<circle cx="597.2" cy="197.68" r="4.1" fill="#7b00ff" stroke="#7b00ff" stroke-width="1.36"/>
<text x="627.2" y="202.97" font-family='"Liberation Sans", sans-serif' font-size="20" fill="#000"><tspan font-style="italic">d</tspan><tspan font-size="14.6" dx="-0.6" dy="5.6">7</tspan></text>
<line x1="576.6" y1="227.68" x2="617.8" y2="227.68" stroke="#ff00bf" stroke-width="2.65"/>
<circle cx="597.2" cy="227.68" r="4.1" fill="#ff00bf" stroke="#ff00bf" stroke-width="1.36"/>
<text x="627.2" y="232.97" font-family='"Liberation Sans", sans-serif' font-size="20" fill="#000"><tspan font-style="italic">d</tspan><tspan font-size="14.6" dx="-0.6" dy="5.6">8</tspan></text>
<path d="M577.5 258.04H592.6M599.2 258.04H614.8" fill="none" stroke="#7fc97f" stroke-width="4.08"/>
<polygon points="597.2,251.24 590.4,264.84 604,264.84" fill="#7fc97f" stroke="#7fc97f" stroke-width="1.36" stroke-linejoin="miter"/>
<text x="627.2" y="262.9" font-family='"Liberation Sans", sans-serif' font-size="20" fill="#000"><tspan font-style="italic">hd</tspan><tspan font-size="14.6" dx="-0.1" dy="5.6">12</tspan></text>
<path d="M577.5 288.04H592.6M599.2 288.04H614.8" fill="none" stroke="#fdc086" stroke-width="4.08"/>
<polygon points="597.2,281.24 590.4,294.84 604,294.84" fill="#fdc086" stroke="#fdc086" stroke-width="1.36" stroke-linejoin="miter"/>
<text x="627.2" y="293.59" font-family='"Liberation Sans", sans-serif' font-size="20" fill="#000"><tspan font-style="italic">hd</tspan><tspan font-size="14.6" dx="-0.1" dy="5.6">23</tspan></text>
<path d="M577.5 318.89H592.6M599.2 318.89H614.8" fill="none" stroke="#386cb0" stroke-width="4.08"/>
<polygon points="597.2,312.09 590.4,325.69 604,325.69" fill="#386cb0" stroke="#386cb0" stroke-width="1.36" stroke-linejoin="miter"/>
<text x="627.2" y="325.1" font-family='"Liberation Sans", sans-serif' font-size="20" fill="#000"><tspan font-style="italic">hd</tspan><tspan font-size="14.6" dx="-0.1" dy="5.6">34</tspan></text>
</svg>
</body></html>
